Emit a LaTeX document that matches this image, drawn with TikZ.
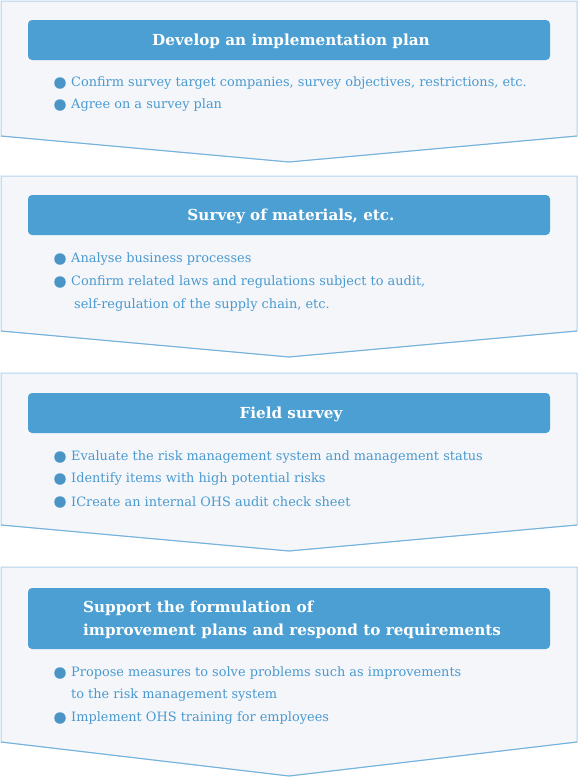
\documentclass[tikz,border=0pt]{standalone}
\usepackage{fontspec}
\setmainfont{DejaVu Serif}
\definecolor{hdr}{HTML}{4C9FD2}
\definecolor{pfill}{HTML}{F4F6FA}
\definecolor{pedge}{HTML}{B2D2EA}
\definecolor{pbot}{HTML}{74B2DC}
\definecolor{btxt}{HTML}{4A9AD0}
\definecolor{bdot}{HTML}{4A94C6}
\begin{document}
\begin{tikzpicture}[x=1pt,y=-1pt,
  panel/.style={fill=pfill,draw=pedge,line width=1pt},
  pbottom/.style={draw=pbot,line width=1pt},
  hdrbox/.style={fill=hdr,rounded corners=4pt},
  hdrtxt/.style={text=white,font=\bfseries\fontsize{15.2}{18}\selectfont,inner sep=0pt},
  btext/.style={text=btxt,font=\fontsize{12.9}{15}\selectfont,anchor=west,inner sep=0pt},
  dot/.style={circle,fill=bdot,minimum size=11.5pt,inner sep=0pt}]
\useasboundingbox (0,0) rectangle (578,777);
% panels
\foreach \t/\s/\p in {1/136/162,176/331/357,373/525/551,567/742/776}{
  \path[panel] (1,\s)--(1,\t)--(577,\t)--(577,\s)--(289,\p)--cycle;
  \draw[pbottom] (1,\s)--(289,\p)--(577,\s);
}
% headers
\fill[hdrbox] (28,20) rectangle (550,60);
\fill[hdrbox] (28,195) rectangle (550,235);
\fill[hdrbox] (28,393) rectangle (550,433);
\fill[hdrbox] (28,588) rectangle (550,649);
\node[hdrtxt] (h1) at (291,41) {Develop an implementation plan};
\node[hdrtxt] (h2) at (291,216) {Survey of materials, etc.};
\node[hdrtxt] (h3) at (291,414) {Field survey};
\node[hdrtxt,anchor=west] (h4a) at (83,608) {Support the formulation of};
\node[hdrtxt,anchor=west] (h4b) at (83,631) {improvement plans and respond to requirements};
% bullets
\foreach \y in {83,105,259,282,457,479,502,673,718}{
  \node[dot] at (60,\y) {};
}
\node[btext] (a1) at (71,83) {Confirm survey target companies, survey objectives, restrictions, etc.};
\node[btext] (a2) at (71,105) {Agree on a survey plan};
\node[btext] (b1) at (71,259) {Analyse business processes};
\node[btext] (b2) at (71,282) {Confirm related laws and regulations subject to audit,};
\node[btext] (b3) at (74,305) {self-regulation of the supply chain, etc.};
\node[btext] (c1) at (71,457) {Evaluate the risk management system and management status};
\node[btext] (c2) at (71,479) {Identify items with high potential risks};
\node[btext] (c3) at (71,502) {ICreate an internal OHS audit check sheet};
\node[btext] (d1) at (71,673) {Propose measures to solve problems such as improvements};
\node[btext] (d2) at (71,695) {to the risk management system};
\node[btext] (d3) at (71,718) {Implement OHS training for employees};
\end{tikzpicture}
\end{document}
